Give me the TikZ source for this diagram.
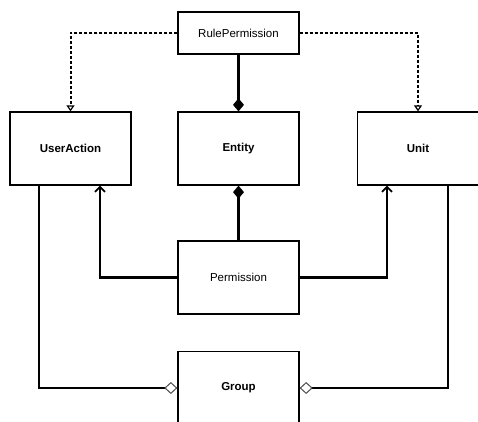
\documentclass[tikz,border=0pt]{standalone}
\usepackage{fontspec}
\setmainfont{Liberation Sans}
\usetikzlibrary{arrows.meta}

\begin{document}
\begin{tikzpicture}[x=1pt,y=-1pt,
            box/.style={draw,rectangle,line width=1.3pt,minimum width=121pt,minimum height=73pt,inner sep=0pt,font=\fontsize{11.5}{13}\selectfont},
            boldbox/.style={box,font=\fontsize{11.5}{13}\selectfont\bfseries},
            link/.style={line width=2.3pt},
            dep/.style={line width=2pt,dash pattern=on 3pt off 2pt,-{Triangle[open,length=6pt,width=8pt,line width=1.2pt]}},
            assoc/.style={link,-{Straight Barb[length=5pt,width=10pt,line width=1.8pt]}},
            compo/.style={link,-{Diamond[length=13pt,width=11pt]}},
            aggr/.style={link,-{Diamond[open,length=13pt,width=12pt,line width=1pt,color=black!70]}}]
            \useasboundingbox (0,0) rectangle (478,421);
            \node (rule) at (238.5,33) [box,minimum height=42pt] {RulePermission};
            \node (action) at (70.5,148.5) [boldbox] {UserAction};
            \node (entity) at (238.5,148.5) [boldbox] {Entity};
            \node (unit) at (418,148.5) [boldbox] {Unit};
            \node (perm) at (238.5,277.5) [box] {Permission};
            \node (group) at (238.5,388) [boldbox] {Group};

            \draw[dep] (rule.west) -| (action.north);
            \draw[dep] (rule.east) -| (unit.north);
            \draw[compo] (rule.south) -- (entity.north);
            \draw[compo] (perm.north) -- (entity.south);
            \draw[assoc] (perm.west) -| ([xshift=29.5pt]action.south);
            \draw[assoc] (perm.east) -| ([xshift=-31pt]unit.south);
            \draw[aggr] ([xshift=-31.5pt]action.south) |- (group.west);
            \draw[aggr] ([xshift=30pt]unit.south) |- (group.east);
        \end{tikzpicture}
\end{document}
